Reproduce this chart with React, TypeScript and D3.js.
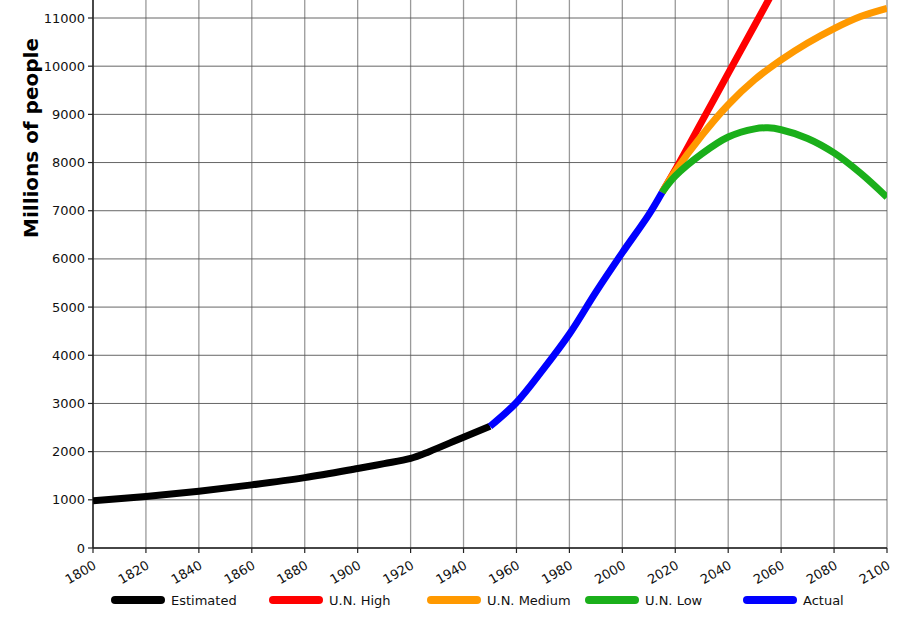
import React from "react";
import * as d3 from "d3";

const estimatedYears = [1800, 1820, 1840, 1860, 1880, 1900, 1910, 1920, 1927, 1940, 1950];
const estimatedVals = [980, 1070, 1180, 1310, 1460, 1650, 1750, 1860, 2000, 2300, 2525];
const actualYears = [1950, 1960, 1970, 1980, 1990, 2000, 2010, 2015];
const actualVals = [2525, 3020, 3700, 4440, 5310, 6130, 6920, 7380];
const highYears = [2015, 2020, 2030, 2040, 2050, 2060, 2070, 2080, 2090, 2100];
const highVals = [7380, 7850, 8850, 9850, 10850, 11850, 12850, 13850, 14850, 15850];
const mediumYears = [2015, 2020, 2030, 2040, 2050, 2060, 2070, 2080, 2090, 2100];
const mediumVals = [7380, 7820, 8560, 9200, 9720, 10130, 10480, 10780, 11030, 11200];
const lowYears = [2015, 2020, 2030, 2040, 2050, 2055, 2060, 2070, 2080, 2090, 2100];
const lowVals = [7380, 7720, 8180, 8530, 8700, 8720, 8680, 8500, 8200, 7780, 7280];

const xTicks = d3.range(1800, 2101, 20);
const yTicks = d3.range(0, 11001, 1000);

const legendItems = [
  { label: "Estimated", color: "#000000" },
  { label: "U.N. High", color: "#ff0000" },
  { label: "U.N. Medium", color: "#ff9900" },
  { label: "U.N. Low", color: "#1aaf1a" },
  { label: "Actual", color: "#0000ff" },
];

export default function App() {
  const x = d3.scaleLinear().domain([1800, 2100]).range([93, 887]);
  const y = d3.scaleLinear().domain([0, 11000]).range([548, 18]);
  const line = d3
    .line<[number, number]>()
    .x((d) => x(d[0]))
    .y((d) => y(d[1]))
    .curve(d3.curveCatmullRom.alpha(0.5));
  const mk = (ys: number[], vs: number[]) => line(ys.map((yr, i) => [yr, vs[i]] as [number, number])) || "";

  const series = [
    { d: mk(highYears, highVals), color: "#ff0000" },
    { d: mk(mediumYears, mediumVals), color: "#ff9900" },
    { d: mk(lowYears, lowVals), color: "#1aaf1a" },
    { d: mk(estimatedYears, estimatedVals), color: "#000000" },
    { d: mk(actualYears, actualVals), color: "#0000ff" },
  ];
  const font = "'DejaVu Sans', sans-serif";
  const legendX = [113, 271, 429, 587, 745];

  return (
    <svg
      width={913}
      height={625}
      style={{ position: "absolute", left: 0, top: 0, background: "#fff" }}
      fontFamily={font}
    >
      <defs>
        <clipPath id="plot">
          <rect x={93} y={0} width={794} height={548} />
        </clipPath>
      </defs>
      {xTicks.map((t) => (
        <line key={"vx" + t} x1={x(t)} x2={x(t)} y1={0} y2={548} stroke="#9a9a9a" strokeWidth={1.3} />
      ))}
      {yTicks.map((t) => (
        <line key={"hy" + t} x1={93} x2={887} y1={y(t)} y2={y(t)} stroke="#555" strokeWidth={0.9} />
      ))}
      <line x1={93} x2={93} y1={0} y2={548} stroke="#222" strokeWidth={1.5} />
      <line x1={93} x2={887} y1={548} y2={548} stroke="#222" strokeWidth={1.5} />
      {yTicks.map((t) => (
        <g key={"yt" + t}>
          <line x1={88} x2={93} y1={y(t)} y2={y(t)} stroke="#222" strokeWidth={1.2} />
          <text x={85} y={y(t)} dy="0.35em" textAnchor="end" fontSize={13} fill="#111">
            {t}
          </text>
        </g>
      ))}
      {xTicks.map((t) => (
        <g key={"xt" + t}>
          <line x1={x(t)} x2={x(t)} y1={548} y2={553} stroke="#222" strokeWidth={1.2} />
          <text
            transform={`translate(${x(t) + 2},${564}) rotate(-30)`}
            textAnchor="end"
            fontSize={13}
            dy="0.35em"
            fill="#111"
          >
            {t}
          </text>
        </g>
      ))}
      <text
        transform="translate(38,138) rotate(-90)"
        textAnchor="middle"
        fontSize={20}
        fontWeight="bold"
        fill="#000"
      >
        Millions of people
      </text>
      <g clipPath="url(#plot)">
        {series.map((s, i) => (
          <path key={i} d={s.d} fill="none" stroke={s.color} strokeWidth={7} strokeLinecap="butt" strokeLinejoin="round" />
        ))}
      </g>
      {legendItems.map((it, i) => (
        <g key={it.label}>
          <line
            x1={legendX[i] + 2}
            x2={legendX[i] + 48}
            y1={600}
            y2={600}
            stroke={it.color}
            strokeWidth={8}
            strokeLinecap="round"
          />
          <text x={legendX[i] + 58} y={600} dy="0.35em" fontSize={13} fill="#111">
            {it.label}
          </text>
        </g>
      ))}
    </svg>
  );
}
